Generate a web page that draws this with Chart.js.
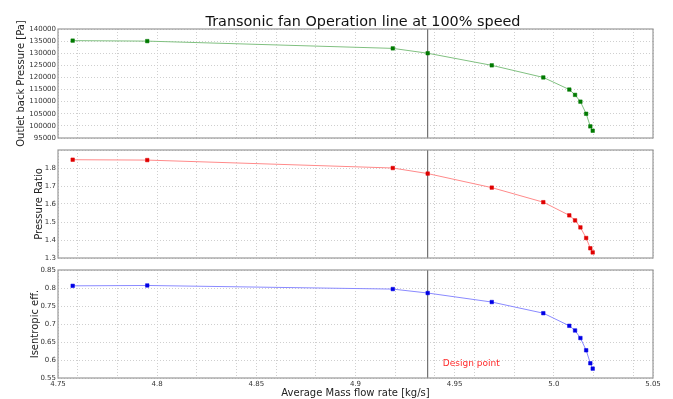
<!DOCTYPE html>
<html><head><meta charset="utf-8">
<script src="https://cdn.jsdelivr.net/npm/chart.js@4.4.1/dist/chart.umd.min.js"></script>
<style>
html,body{margin:0;padding:0;background:#fff;width:673px;height:399px;overflow:hidden}
canvas{position:absolute;left:0;top:0}
</style></head><body>
<canvas id="c1" width="673" height="399"></canvas>
<canvas id="c2" width="673" height="399"></canvas>
<canvas id="c3" width="673" height="399"></canvas>
<script>
// ---- data ----
const massFlow      = [4.7574, 4.7950, 4.9188, 4.9364, 4.9687, 4.9947, 5.0078, 5.0107, 5.0134, 5.0163, 5.0184, 5.0196];
const backPressure  = [135200, 135000, 132000, 130000, 125000, 120000, 115000, 112800, 110000, 105000, 99800, 98000];
const pressureRatio = [1.846, 1.844, 1.800, 1.769, 1.691, 1.610, 1.537, 1.509, 1.470, 1.411, 1.354, 1.331];
const efficiency    = [0.806, 0.807, 0.797, 0.786, 0.761, 0.730, 0.695, 0.682, 0.661, 0.627, 0.591, 0.576];
const designFlow    = [4.9364];

const xTicks       = [4.75, 4.8, 4.85, 4.9, 4.95, 5.0, 5.05];
const xTickLabels  = ['4.75', '4.8', '4.85', '4.9', '4.95', '5.0', '5.05'];
const pressureTicks = [95000, 100000, 105000, 110000, 115000, 120000, 125000, 130000, 135000, 140000];
const pressureTickLabels = ['95000', '100000', '105000', '110000', '115000', '120000', '125000', '130000', '135000', '140000'];
const ratioTicks = [1.3, 1.4, 1.5, 1.6, 1.7, 1.8, 1.9];
const ratioTickLabels = ['1.3', '1.4', '1.5', '1.6', '1.7', '1.8', ''];
const effTicks = [0.55, 0.6, 0.65, 0.7, 0.75, 0.8, 0.85];
const effTickLabels = ['0.55', '0.6', '0.65', '0.7', '0.75', '0.8', '0.85'];

const titleText = 'Transonic fan Operation line at 100% speed';
const xTitle = 'Average Mass flow rate [kg/s]';
const designText = 'Design point';

// ---- styling ----
Chart.defaults.font.family = "'DejaVu Sans', sans-serif";
Chart.defaults.color = '#222';
const FONT = "'DejaVu Sans', sans-serif";
const gridColor = '#cfcfcf';

// minor grid every 0.02 together with labelled ticks
const xGrid = (() => {
  const s = new Set(xTicks.map(v => Math.round(v * 1000)));
  for (let k = 238; k <= 252; k++) s.add(k * 20);
  return [...s].sort((a, b) => a - b).map(v => v / 1000);
})();

const framePlugin = {
  id: 'frame',
  afterDraw(chart, args, opts) {
    const {ctx, chartArea: a} = chart;
    ctx.save();
    ctx.strokeStyle = '#999';
    ctx.lineWidth = 1.2;
    ctx.strokeRect(a.left, a.top, a.right - a.left, a.bottom - a.top);
    if (opts.title) {
      ctx.fillStyle = '#111';
      ctx.font = '14.4px ' + FONT;
      ctx.textAlign = 'center';
      ctx.textBaseline = 'alphabetic';
      ctx.fillText(opts.title, 363, 26);
    }
    if (opts.note) {
      const xs = chart.scales.x, ys = chart.scales.y;
      ctx.fillStyle = '#ff2a2a';
      ctx.font = '9px ' + FONT;
      ctx.textAlign = 'left';
      ctx.textBaseline = 'middle';
      ctx.fillText(opts.note.text, xs.getPixelForValue(opts.note.x), ys.getPixelForValue(opts.note.y));
    }
    ctx.restore();
  }
};

function makeChart(id, o) {
  const yMin = o.yTicks[0], yMax = o.yTicks[o.yTicks.length - 1];
  return new Chart(document.getElementById(id), {
    type: 'line',
    data: {
      datasets: [
        {
          data: massFlow.map((x, i) => ({x, y: o.values[i]})),
          borderColor: o.lineColor,
          backgroundColor: o.markColor,
          pointBackgroundColor: o.markColor,
          pointBorderColor: o.markColor,
          pointBorderWidth: 0.5,
          pointStyle: 'rect',
          pointRadius: 2.5,
          borderWidth: 1,
          tension: 0,
          order: 1
        },
        {
          data: [{x: designFlow[0], y: yMin}, {x: designFlow[0], y: yMax}],
          borderColor: '#555',
          borderWidth: 1,
          pointRadius: 0,
          order: 2
        }
      ]
    },
    options: {
      responsive: false,
      animation: false,
      events: [],
      layout: {padding: o.padding},
      plugins: {
        legend: {display: false},
        tooltip: {enabled: false},
        frame: {title: o.title, note: o.note}
      },
      scales: {
        x: {
          type: 'linear',
          min: 4.75, max: 5.05,
          afterBuildTicks: s => { s.ticks = xGrid.map(v => ({value: v})); },
          afterFit: s => { s.height = o.xHeight; },
          grid: {color: gridColor, drawTicks: false, lineWidth: 1},
          border: {display: false, dash: [1, 2]},
          ticks: {
            display: o.showX,
            autoSkip: false, maxRotation: 0, padding: 2,
            font: {size: 7}, color: '#333',
            callback: v => {
              const i = xTicks.findIndex(t => Math.abs(t - v) < 1e-9);
              return i >= 0 ? xTickLabels[i] : '';
            }
          },
          title: {display: o.showX, text: xTitle, font: {size: 10}, color: '#222', padding: {top: 0, bottom: 0}}
        },
        y: {
          type: 'linear',
          min: yMin, max: yMax,
          afterBuildTicks: s => { s.ticks = o.yTicks.map(v => ({value: v})); },
          afterFit: s => { s.width = 58 - o.padding.left; },
          grid: {color: gridColor, drawTicks: false, lineWidth: 1},
          border: {display: false, dash: [1, 2]},
          ticks: {
            autoSkip: false, padding: 2,
            font: {size: 7}, color: '#333',
            callback: (v, i) => o.yLabels[i]
          },
          title: {display: true, text: o.yTitle, font: {size: 10}, color: '#222'}
        }
      }
    },
    plugins: [framePlugin]
  });
}

makeChart('c1', {
  values: backPressure, yTicks: pressureTicks, yLabels: pressureTickLabels,
  yTitle: 'Outlet back Pressure [Pa]',
  lineColor: '#80c080', markColor: '#007a00',
  padding: {left: 11, top: 29, right: 20, bottom: 261},
  xHeight: 0, showX: false, title: titleText
});
makeChart('c2', {
  values: pressureRatio, yTicks: ratioTicks, yLabels: ratioTickLabels,
  yTitle: 'Pressure Ratio',
  lineColor: '#ff8a8a', markColor: '#e00000',
  padding: {left: 29, top: 150, right: 20, bottom: 141},
  xHeight: 0, showX: false
});
makeChart('c3', {
  values: efficiency, yTicks: effTicks, yLabels: effTickLabels,
  yTitle: 'Isentropic eff.',
  lineColor: '#8a8aff', markColor: '#0000e6',
  padding: {left: 25, top: 270, right: 20, bottom: 0},
  xHeight: 21, showX: true,
  note: {text: designText, x: 4.944, y: 0.589}
});
</script>
</body></html>
